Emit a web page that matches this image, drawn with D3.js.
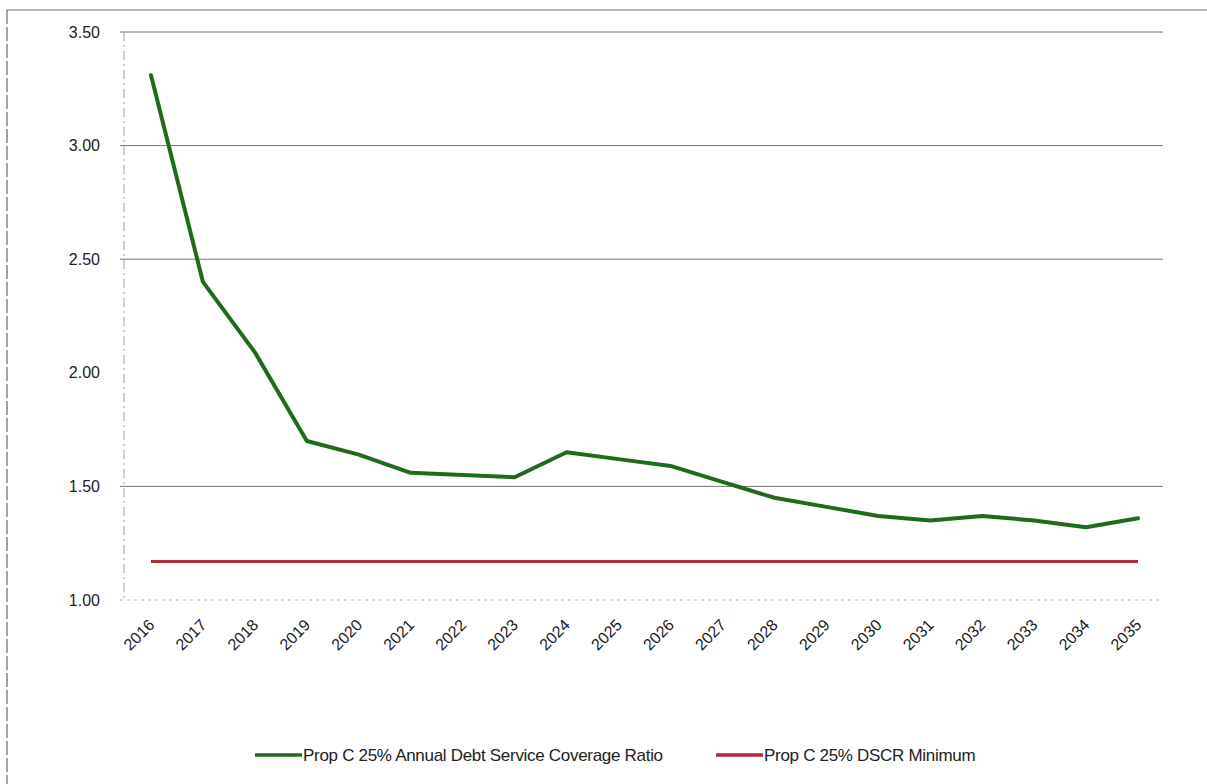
<!DOCTYPE html>
<html>
<head>
<meta charset="utf-8">
<script src="https://cdn.jsdelivr.net/npm/d3@7"></script>
<style>
  html, body { margin: 0; padding: 0; background: #fff; }
  svg { display: block; font-family: "Liberation Sans", Arial, sans-serif; }
</style>
</head>
<body>
<svg id="chart" width="1207" height="784"></svg>
<script>
// Fiscal years on the horizontal axis
const years = ["2016","2017","2018","2019","2020","2021","2022","2023","2024","2025",
               "2026","2027","2028","2029","2030","2031","2032","2033","2034","2035"];

// Annual debt service coverage ratio
const coverageRatio = [3.31, 2.40, 2.09, 1.70, 1.64, 1.56, 1.55, 1.54, 1.65, 1.62,
                       1.59, 1.52, 1.45, 1.41, 1.37, 1.35, 1.37, 1.35, 1.32, 1.36];

// Required minimum coverage
const dscrMinimum = [1.17, 1.17, 1.17, 1.17, 1.17, 1.17, 1.17, 1.17, 1.17, 1.17,
                     1.17, 1.17, 1.17, 1.17, 1.17, 1.17, 1.17, 1.17, 1.17, 1.17];

const yTicks = [1.00, 1.50, 2.00, 2.50, 3.00, 3.50];
const gridValues = [1.50, 2.50, 3.00, 3.50];

const seriesNames = ["Prop C 25% Annual Debt Service Coverage Ratio", "Prop C 25% DSCR Minimum"];
const seriesColors = ["#1f6b1c", "#b3273f"];

const svg = d3.select("#chart");

// Plot geometry
const plot = { left: 124, right: 1163, top: 32, bottom: 600 };

const x = d3.scalePoint().domain(years).range([151, 1138]);
const y = d3.scaleLinear().domain([1, 3.5]).range([plot.bottom, plot.top]);

// Outer frame
svg.append("line")
  .attr("x1", 7).attr("x2", 1207).attr("y1", 10).attr("y2", 10)
  .attr("stroke", "#777").attr("stroke-width", 1.2);
svg.append("line")
  .attr("x1", 7).attr("x2", 7).attr("y1", 10).attr("y2", 784)
  .attr("stroke", "#666").attr("stroke-width", 1.2)
  .attr("stroke-dasharray", "14,3");

// Horizontal gridlines
svg.append("g")
  .selectAll("line")
  .data(gridValues)
  .join("line")
  .attr("x1", plot.left - 4).attr("x2", plot.right)
  .attr("y1", d => y(d)).attr("y2", d => y(d))
  .attr("stroke", "#767676").attr("stroke-width", 1);

// Axis lines
svg.append("line")
  .attr("x1", plot.left).attr("x2", plot.left)
  .attr("y1", plot.top).attr("y2", plot.bottom)
  .attr("stroke", "#a0a0a0").attr("stroke-width", 1)
  .attr("stroke-dasharray", "9,4,2,4");
svg.append("line")
  .attr("x1", plot.left - 4).attr("x2", plot.right)
  .attr("y1", plot.bottom).attr("y2", plot.bottom)
  .attr("stroke", "#b5b5b5").attr("stroke-width", 1)
  .attr("stroke-dasharray", "3,4");

// Y axis labels
const yAxis = svg.append("g")
  .attr("transform", `translate(${plot.left - 24},0)`)
  .call(d3.axisLeft(y).tickValues(yTicks).tickFormat(d3.format(".2f")).tickSize(0).tickPadding(0));
yAxis.select(".domain").remove();
yAxis.selectAll("text")
  .attr("fill", "#222")
  .style("font-size", "16px")
  .style("font-family", "'Liberation Sans', Arial, sans-serif");

// X axis labels, rotated
const xAxis = svg.append("g")
  .attr("transform", `translate(0,${plot.bottom})`)
  .call(d3.axisBottom(x).tickSize(0).tickPadding(0));
xAxis.select(".domain").remove();
xAxis.selectAll("text")
  .attr("fill", "#1a1a1a")
  .style("font-size", "16px")
  .style("font-family", "'Liberation Sans', Arial, sans-serif")
  .attr("text-anchor", "end")
  .attr("dy", null)
  .attr("y", 0)
  .attr("transform", "translate(4,26) rotate(-45)");

// Series lines
const line = d3.line()
  .x((d, i) => x(years[i]))
  .y(d => y(d));

svg.append("path")
  .datum(dscrMinimum)
  .attr("fill", "none")
  .attr("stroke", seriesColors[1])
  .attr("stroke-width", 3)
  .attr("d", line);

svg.append("path")
  .datum(coverageRatio)
  .attr("fill", "none")
  .attr("stroke", seriesColors[0])
  .attr("stroke-width", 4)
  .attr("stroke-linejoin", "round")
  .attr("stroke-linecap", "round")
  .attr("d", line);

// Legend
const legendItems = [
  { name: seriesNames[0], color: seriesColors[0], x: 255 },
  { name: seriesNames[1], color: seriesColors[1], x: 716 }
];
const legend = svg.append("g").attr("transform", "translate(0,755)");
const li = legend.selectAll("g").data(legendItems).join("g")
  .attr("transform", d => `translate(${d.x},0)`);
li.append("line")
  .attr("x1", 0).attr("x2", 47).attr("y1", 0).attr("y2", 0)
  .attr("stroke", d => d.color).attr("stroke-width", 3.5);
li.append("text")
  .attr("x", 48).attr("y", 0).attr("dy", "0.35em")
  .attr("fill", "#222")
  .style("font-size", "17px")
  .style("letter-spacing", "-0.3px")
  .text(d => d.name);
</script>
</body>
</html>
